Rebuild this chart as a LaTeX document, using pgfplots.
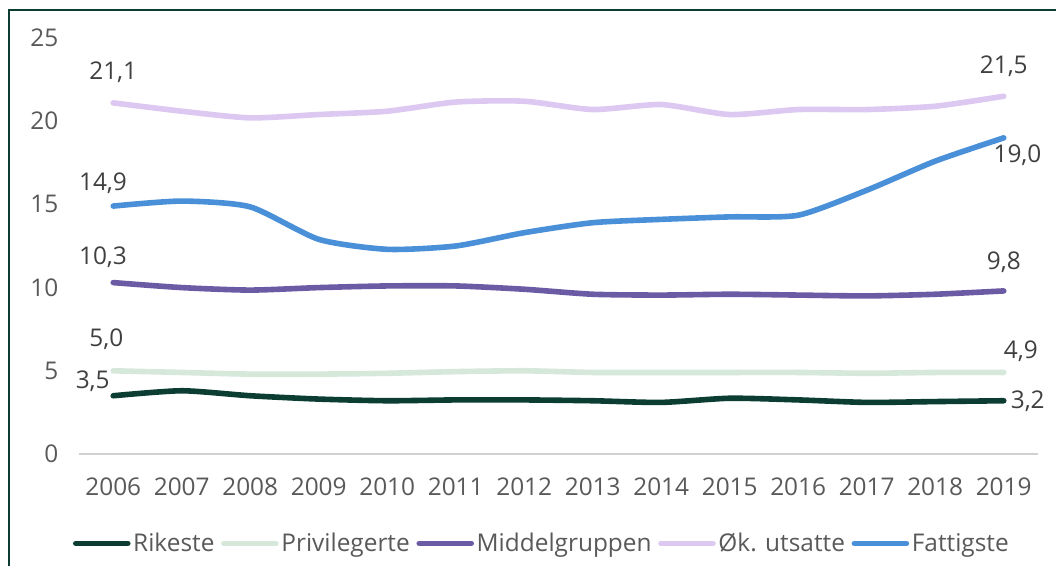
\documentclass[border=0pt]{standalone}
\usepackage{pgfplots}
\pgfplotsset{compat=1.18}
\usepackage{fontspec}
\setmainfont{Open Sans}
\definecolor{rik}{HTML}{0B3D33}
\definecolor{priv}{HTML}{D5E8DA}
\definecolor{mid}{HTML}{6B5BA5}
\definecolor{okut}{HTML}{DCC8F0}
\definecolor{fatt}{HTML}{4A90D9}
\definecolor{ticktxt}{HTML}{595959}
\definecolor{lbl}{HTML}{404040}
\begin{document}
\begin{tikzpicture}
\useasboundingbox (0,0) rectangle (792pt,424.5pt);
\draw[rik, line width=1.2pt] (6.75pt,0) -- (6.75pt,417pt) -- (792pt,417pt);
\begin{axis}[
  at={(59.25pt,84pt)}, anchor=south west,
  scale only axis, width=719.25pt, height=312pt,
  xmin=2005.5, xmax=2019.5, ymin=0, ymax=25,
  xtick={2006,...,2019}, ytick={0,5,...,25},
  axis x line*=bottom, axis y line*=left,
  y axis line style={draw=none},
  x axis line style={draw=black!18, line width=1.2pt, -},
  major tick length=0pt,
  /pgf/number format/assume math mode=true,
  /pgf/number format/set thousands separator={},
  tick label style={font=\fontsize{18.3}{20}\selectfont, text=ticktxt},
  yticklabel style={xshift=-12pt},
  xticklabel style={yshift=-14pt},
  clip=false,
  legend style={at={(0.483,-0.215)}, anchor=center, draw=none, fill=none,
    legend columns=-1, font=\fontsize{18.3}{20}\selectfont, text=ticktxt,
    /tikz/every odd column/.append style={column sep=0pt},
    /tikz/every even column/.append style={column sep=3pt}},
  legend image code/.code={\draw[#1, line cap=round] (0pt,0pt) -- (39pt,0pt);},
  every axis plot/.append style={line width=4.2pt, line cap=round, line join=round, smooth, tension=0.4, mark=none},
]
\addplot[rik] coordinates {(2006,3.5)(2007,3.8)(2008,3.5)(2009,3.3)(2010,3.2)(2011,3.25)(2012,3.25)(2013,3.2)(2014,3.1)(2015,3.35)(2016,3.25)(2017,3.1)(2018,3.15)(2019,3.2)};
\addlegendentry{Rikeste}
\addplot[priv] coordinates {(2006,5.0)(2007,4.9)(2008,4.8)(2009,4.8)(2010,4.85)(2011,4.95)(2012,5.0)(2013,4.9)(2014,4.9)(2015,4.9)(2016,4.9)(2017,4.85)(2018,4.9)(2019,4.9)};
\addlegendentry{Privilegerte}
\addplot[mid] coordinates {(2006,10.3)(2007,10.0)(2008,9.85)(2009,10.0)(2010,10.1)(2011,10.1)(2012,9.9)(2013,9.6)(2014,9.55)(2015,9.6)(2016,9.55)(2017,9.5)(2018,9.6)(2019,9.8)};
\addlegendentry{Middelgruppen}
\addplot[okut] coordinates {(2006,21.1)(2007,20.6)(2008,20.2)(2009,20.4)(2010,20.6)(2011,21.15)(2012,21.2)(2013,20.7)(2014,21.0)(2015,20.4)(2016,20.7)(2017,20.7)(2018,20.9)(2019,21.5)};
\addlegendentry{Øk. utsatte}
\addplot[fatt] coordinates {(2006,14.9)(2007,15.2)(2008,14.85)(2009,12.9)(2010,12.3)(2011,12.5)(2012,13.3)(2013,13.9)(2014,14.1)(2015,14.25)(2016,14.35)(2017,15.85)(2018,17.6)(2019,19.0)};
\addlegendentry{Fattigste}
\begin{scope}[every node/.style={font=\fontsize{18.3}{20}\selectfont, text=lbl}]
\node at (axis cs:2006,22.95) {21,1};
\node at (axis cs:2005.85,16.3) {14,9};
\node at (axis cs:2005.85,11.8) {10,3};
\node at (axis cs:2005.9,6.9) {5,0};
\node at (axis cs:2005.7,4.4) {3,5};
\node at (axis cs:2019,23.3) {21,5};
\node at (axis cs:2019.2,17.95) {19,0};
\node at (axis cs:2019,11.55) {9,8};
\node at (axis cs:2019.25,6.15) {4,9};
\node at (axis cs:2019.35,3.2) {3,2};
\end{scope}
\end{axis}
\end{tikzpicture}
\end{document}
